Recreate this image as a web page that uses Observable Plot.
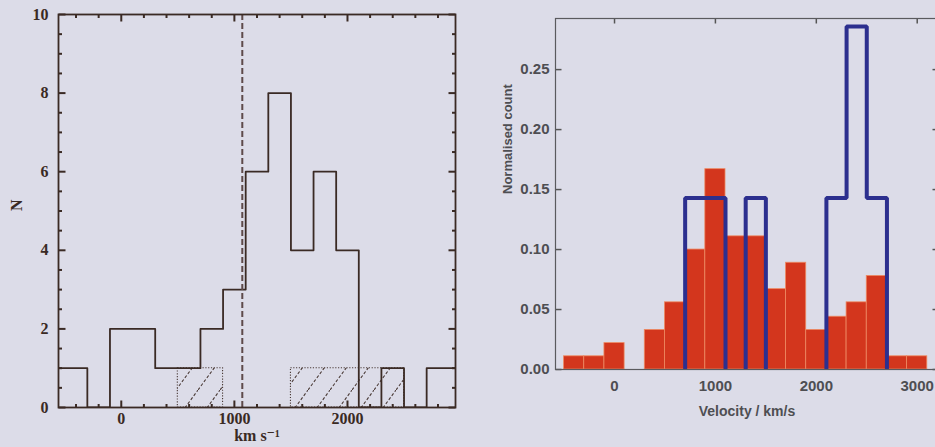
<!DOCTYPE html>
<html>
<head>
<meta charset="utf-8">
<script src="https://cdn.jsdelivr.net/npm/d3@7"></script>
<script src="https://cdn.jsdelivr.net/npm/@observablehq/plot@0.6"></script>
<style>
  html, body { margin: 0; padding: 0; width: 935px; height: 447px; overflow: hidden; background: #dcdce8; }
  #left { position: absolute; left: 0; top: 0; width: 470px; height: 447px; }
  #right { position: absolute; left: 470px; top: 0; width: 480px; height: 447px; }
  svg { max-width: none !important; }
</style>
</head>
<body>
<div id="left"></div>
<div id="right"></div>
<script>
// ---------- Left panel data (counts per 200 km/s bin starting at -500) ----------
const leftBinStart = -500;
const leftBinWidth = 200;
const leftCounts  = [1, 0, 2, 2, 1, 1, 2, 3, 6, 8, 4, 6, 4, 0, 1, 0, 1];
const hatchCounts = [0, 0, 0, 0, 0, 1, 1, 0, 0, 0, 1, 1, 1, 1, 1, 0, 0];
const meanVelocity = 1070;
const leftXTicks = [0, 1000, 2000];
const leftYTicks = [0, 2, 4, 6, 8, 10];

// ---------- Right panel data (normalised counts per 200 km/s bin starting at -500) ----------
const rightBinStart = -500;
const rightBinWidth = 200;
const redValues  = [0.011, 0.011, 0.022, 0, 0.033, 0.056, 0.100, 0.167, 0.111, 0.111, 0.067, 0.089, 0.033, 0.044, 0.056, 0.078, 0.011, 0.011];
const blueValues = [0, 0, 0, 0, 0, 0, 0.143, 0.143, 0, 0.143, 0, 0, 0, 0.143, 0.286, 0.143, 0, 0];
const rightXTicks = [0, 1000, 2000, 3000];
const rightYTicks = [0, 0.05, 0.10, 0.15, 0.20, 0.25];

// ---------- helpers ----------
function stepPoints(start, width, counts, x0, x1) {
  const pts = [];
  counts.forEach((c, i) => {
    const a = i === 0 ? x0 : start + i * width;
    const b = i === counts.length - 1 ? x1 : start + (i + 1) * width;
    pts.push({x: a, y: c}, {x: b, y: c});
  });
  return pts;
}
function runs(start, width, values) {
  const pts = [];
  let g = -1, open = false;
  values.forEach((v, i) => {
    const a = start + i * width, b = a + width;
    if (v > 0) {
      if (!open) { g++; open = true; pts.push({x: a, y: 0, g}); }
      pts.push({x: a, y: v, g}, {x: b, y: v, g});
      const next = values[i + 1] || 0;
      if (next <= 0) { pts.push({x: b, y: 0, g}); open = false; }
    }
  });
  return pts;
}
function groups(start, width, values) {
  const out = [];
  values.forEach((v, i) => {
    if (v <= 0) return;
    const a = start + i * width, b = a + width;
    const last = out[out.length - 1];
    if (last && last.x2 === a && last.y === v) last.x2 = b;
    else out.push({x1: a, x2: b, y: v});
  });
  return out;
}
// inward tick segments (length in pixels converted with px/unit)
function tickSegs(xt, yt, xDom, yDom, kx, ky, lenPx, sides) {
  const dx = lenPx / kx, dy = lenPx / ky, s = [];
  if (sides.includes("b")) xt.forEach(v => s.push({x1: v, x2: v, y1: yDom[0], y2: yDom[0] + dy}));
  if (sides.includes("t")) xt.forEach(v => s.push({x1: v, x2: v, y1: yDom[1], y2: yDom[1] - dy}));
  if (sides.includes("l")) yt.forEach(v => s.push({x1: xDom[0], x2: xDom[0] + dx, y1: v, y2: v}));
  if (sides.includes("r")) yt.forEach(v => s.push({x1: xDom[1], x2: xDom[1] - dx, y1: v, y2: v}));
  return s;
}

// ---------- Left plot ----------
const L = {w: 470, h: 447, ml: 58, mr: 15, mt: 14, mb: 40};
const lxDomain = [-555, 2955], lyDomain = [0, 10];
const lkx = (L.w - L.ml - L.mr) / (lxDomain[1] - lxDomain[0]);
const lky = (L.h - L.mt - L.mb) / (lyDomain[1] - lyDomain[0]);
const leftFont = "'Liberation Serif', 'DejaVu Serif', serif";
const ink = "#3a2a24";
const minorX = d3.range(-400, 2901, 200).filter(d => d % 1000 !== 0);
const minorY = d3.range(0, 10.01, 0.5).filter(d => d % 2 !== 0);
const leftTicks = [
  ...tickSegs(leftXTicks, leftYTicks, lxDomain, lyDomain, lkx, lky, 7, "btlr"),
  ...tickSegs(minorX, minorY, lxDomain, lyDomain, lkx, lky, 3.5, "btlr")
];

const left = Plot.plot({
  width: L.w, height: L.h,
  marginLeft: L.ml, marginRight: L.mr, marginTop: L.mt, marginBottom: L.mb,
  x: {domain: lxDomain},
  y: {domain: lyDomain},
  style: {background: "transparent", color: ink, fontFamily: leftFont, fontWeight: "bold", fontSize: "16px"},
  marks: [
    Plot.rect(groups(leftBinStart, leftBinWidth, hatchCounts), {
      x1: "x1", x2: "x2", y1: 0, y2: "y",
      fill: "url(#hatchL)", stroke: "#4a3a36", strokeWidth: 1.1, strokeDasharray: "1.2,1.6"
    }),
    Plot.line(stepPoints(leftBinStart, leftBinWidth, leftCounts, lxDomain[0], lxDomain[1]), {
      x: "x", y: "y", stroke: ink, strokeWidth: 1.8, clip: true
    }),
    Plot.ruleX([meanVelocity], {stroke: "#5e4a4a", strokeWidth: 2, strokeDasharray: "6,3"}),
    Plot.link(leftTicks, {x1: "x1", x2: "x2", y1: "y1", y2: "y2", stroke: ink, strokeWidth: 2}),
    Plot.axisX({anchor: "bottom", ticks: leftXTicks, tickSize: 0, tickPadding: 5, tickFormat: d => String(d), label: null}),
    Plot.axisY({anchor: "left", ticks: leftYTicks, tickSize: 0, tickPadding: 10, tickFormat: d => String(d), label: null}),
    Plot.text(["km s⁻¹"], {frameAnchor: "bottom", dy: 33, fontSize: 16, fontWeight: "bold", fill: ink}),
    Plot.text(["N"], {frameAnchor: "left", dx: -42, rotate: -90, fontSize: 16, fontWeight: "bold", fill: ink}),
    Plot.frame({stroke: ink, strokeWidth: 1.8})
  ]
});
d3.select(left).insert("defs", ":first-child").html(
  `<pattern id="hatchL" patternUnits="userSpaceOnUse" width="22" height="30">
     <path d="M-11,15 L11,-15 M0,30 L22,0 M11,45 L33,15" stroke="#4a3a36" stroke-width="1.1" stroke-dasharray="3,2" fill="none"/>
   </pattern>`);
document.getElementById("left").appendChild(left);

// ---------- Right plot ----------
const R = {w: 480, h: 447, ml: 85, mr: 12, mt: 18, mb: 78};
const rxDomain = [-585, 3211], ryDomain = [0, 0.2926];
const rkx = (R.w - R.ml - R.mr) / (rxDomain[1] - rxDomain[0]);
const rky = (R.h - R.mt - R.mb) / (ryDomain[1] - ryDomain[0]);
const rightFont = "'Liberation Sans', Arial, sans-serif";
const grey = "#4e4e52";
const redBars = redValues.map((v, i) => ({x1: rightBinStart + i * rightBinWidth, x2: rightBinStart + (i + 1) * rightBinWidth, y: v})).filter(d => d.y > 0);
const rightTicks = [
  ...tickSegs(rightXTicks, [], rxDomain, ryDomain, rkx, rky, 5, "t"),
  ...tickSegs([], rightYTicks, rxDomain, ryDomain, rkx, rky, 6, "lr")
];

const right = Plot.plot({
  width: R.w, height: R.h,
  marginLeft: R.ml, marginRight: R.mr, marginTop: R.mt, marginBottom: R.mb,
  x: {domain: rxDomain},
  y: {domain: ryDomain},
  style: {background: "transparent", color: grey, fontFamily: rightFont, fontWeight: "bold", fontSize: "15px"},
  marks: [
    Plot.rect(redBars, {x1: "x1", x2: "x2", y1: 0, y2: "y", fill: "#d3361d", stroke: "#ee8a62", strokeWidth: 0.8}),
    Plot.line(runs(rightBinStart, rightBinWidth, blueValues), {
      x: "x", y: "y", z: "g", stroke: "#2c2f8e", strokeWidth: 4, strokeLinejoin: "miter", strokeLinecap: "butt"
    }),
    Plot.link(rightTicks, {x1: "x1", x2: "x2", y1: "y1", y2: "y2", stroke: "#555", strokeWidth: 1.5}),
    Plot.axisX({anchor: "bottom", ticks: rightXTicks, tickSize: 0, tickPadding: 11, tickFormat: d => String(d), label: null}),
    Plot.axisY({anchor: "left", ticks: rightYTicks, tickSize: 0, tickPadding: 6, tickFormat: d3.format(".2f"), label: null}),
    Plot.text(["Velocity / km/s"], {frameAnchor: "bottom", dy: 46, fontSize: 14, fontWeight: "bold", fill: grey}),
    Plot.text(["Normalised count"], {frameAnchor: "left", dx: -48, rotate: -90, fontSize: 13, fontWeight: "bold", fill: grey}),
    Plot.frame({stroke: "#5a5a5e", strokeWidth: 1.2})
  ]
});
document.getElementById("right").appendChild(right);
</script>
</body>
</html>
